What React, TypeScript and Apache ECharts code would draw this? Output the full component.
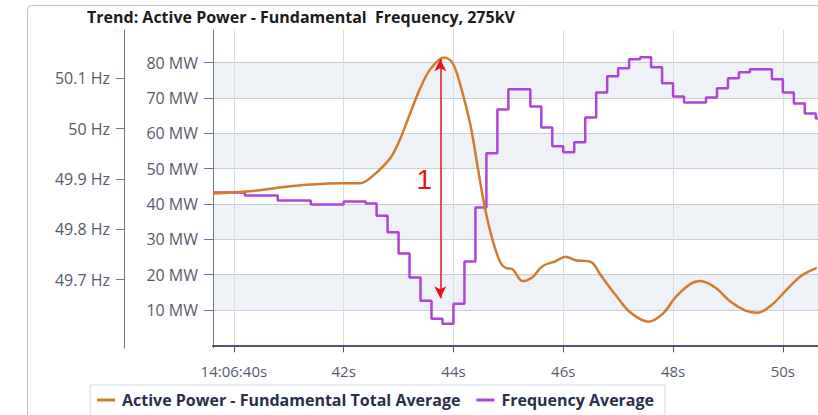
import React, { useEffect, useRef } from "react";
import * as echarts from "echarts";

const title = "Trend: Active Power - Fundamental  Frequency, 275kV";
const powerName = "Active Power - Fundamental Total Average";
const freqName = "Frequency Average";

// time in seconds after 14:06:00
const powerTimes = [39.62, 40.29, 40.84, 41.39, 41.93, 42.3, 42.54, 42.85, 43.03, 43.21, 43.39, 43.58, 43.83, 43.98, 44.12, 44.31, 44.45, 44.58, 44.71, 44.85, 44.95, 45.07, 45.26, 45.44, 45.62, 45.86, 46.04, 46.22, 46.5, 46.68, 46.95, 47.23, 47.55, 47.81, 48.05, 48.32, 48.5, 48.78, 49.05, 49.32, 49.54, 49.78, 50.05, 50.33, 50.62];
const powerMW = [43.0, 43.6, 44.7, 45.5, 45.9, 45.9, 48.1, 53.0, 58.5, 65.6, 72.6, 78.2, 81.5, 80.0, 74.0, 62.3, 49.6, 38.3, 29.9, 23.6, 21.9, 21.6, 18.2, 19.3, 22.4, 23.8, 25.1, 24.1, 23.6, 19.9, 14.3, 9.2, 6.7, 8.9, 13.7, 17.4, 18.2, 16.2, 12.3, 9.8, 9.2, 11.2, 15.4, 19.6, 21.9];

const freqTimes = [39.62, 40.2, 40.8, 41.4, 42.0, 42.4, 42.6, 42.8, 43.0, 43.2, 43.4, 43.6, 43.8, 44.0, 44.2, 44.4, 44.6, 44.8, 45.0, 45.4, 45.6, 45.8, 46.0, 46.2, 46.4, 46.6, 46.8, 47.0, 47.2, 47.4, 47.6, 47.8, 48.0, 48.2, 48.6, 48.8, 49.0, 49.2, 49.4, 49.8, 50.0, 50.2, 50.4, 50.6, 50.64];
const freqHz = [49.873, 49.867, 49.857, 49.849, 49.855, 49.851, 49.827, 49.794, 49.752, 49.704, 49.658, 49.622, 49.612, 49.652, 49.736, 49.843, 49.951, 50.038, 50.078, 50.044, 50.002, 49.965, 49.953, 49.973, 50.022, 50.072, 50.104, 50.12, 50.138, 50.142, 50.122, 50.09, 50.064, 50.052, 50.062, 50.08, 50.1, 50.112, 50.118, 50.098, 50.072, 50.05, 50.03, 50.02, 50.02];

const xTicks = [40, 42, 44, 46, 48, 50];
const mwTicks = [10, 20, 30, 40, 50, 60, 70, 80];
const hzTicks = [49.7, 49.8, 49.9, 50, 50.1];

// annotation: arrow between peak and trough, labelled "1"
const arrowTime = 43.76;
const arrowTopMW = 81.0;
const arrowBottomMW = 13.3;
const markerLabel = "1";
const markerPos = [43.47, 46.8];

const FONT = "'Open Sans', 'Noto Sans', sans-serif";

export default function App() {
  const ref = useRef<HTMLDivElement>(null);
  useEffect(() => {
    if (!ref.current) return;
    const chart = echarts.init(ref.current, undefined, { renderer: "svg" });
    const labelColor = "#545b6c";
    chart.setOption({
      animation: false,
      backgroundColor: "#ffffff",
      textStyle: { fontFamily: FONT },
      title: {
        text: title,
        left: 87,
        top: 9,
        padding: 0,
        textStyle: { fontSize: 16, fontWeight: "bold", color: "#1b1b1b", fontFamily: FONT },
      },
      graphic: [
        {
          type: "rect",
          silent: true,
          z: -10,
          shape: { x: 27.5, y: 5.5, width: 900, height: 500, r: 4 },
          style: { fill: "none", stroke: "#b3c0d2", lineWidth: 1 },
        },
      ],
      legend: {
        left: 90,
        top: 385,
        padding: [7, 11, 8, 7],
        itemGap: 16,
        itemWidth: 18,
        itemHeight: 3,
        icon: "rect",
        backgroundColor: "#ffffff",
        borderColor: "#d3d8e0",
        borderWidth: 1,
        textStyle: { fontSize: 16, fontWeight: "bold", color: "#25304a", fontFamily: FONT, padding: [0, 0, 0, 2] },
        data: [powerName, freqName],
      },
      grid: { left: 213, right: 0, top: 30, bottom: 67 },
      xAxis: {
        type: "value",
        min: 39.62,
        max: 50.64,
        axisLine: { show: true, lineStyle: { color: "#4f5578", width: 2 } },
        axisTick: { show: true, length: 7, customValues: xTicks, lineStyle: { color: "#4f5578" } },
        axisLabel: {
          color: labelColor,
          fontSize: 15,
          fontFamily: FONT,
          margin: 15,
          customValues: xTicks,
          formatter: (v: number) => (v === 40 ? "14:06:40s" : `${v}s`),
        },
        splitLine: { show: true, lineStyle: { color: "#d9dce3", width: 1 } },
      },
      yAxis: [
        {
          type: "value",
          min: -0.76,
          max: 89.25,
          position: "left",
          axisLine: { show: true, lineStyle: { color: "#6d7393", width: 1 } },
          axisTick: { show: true, length: 9, customValues: mwTicks, lineStyle: { color: "#6d7393" } },
          axisLabel: {
            color: labelColor,
            fontSize: 16,
            fontFamily: FONT,
            margin: 15,
            customValues: mwTicks,
            formatter: (v: number) => `${v} MW`,
          },
          splitLine: { show: true, lineStyle: { color: "#c9cdd6", width: 1 } },
          splitArea: { show: true, areaStyle: { color: ["#eef1f6", "rgba(255,255,255,0)"] } },
        },
        {
          type: "value",
          min: 49.564,
          max: 50.196,
          position: "left",
          offset: 89,
          axisLine: { show: true, lineStyle: { color: "#6d7393", width: 1 } },
          axisTick: { show: true, length: 8, customValues: hzTicks, lineStyle: { color: "#6d7393" } },
          axisLabel: {
            color: labelColor,
            fontSize: 16,
            fontFamily: FONT,
            margin: 14,
            customValues: hzTicks,
            formatter: (v: number) => `${+v.toFixed(1)} Hz`,
          },
          splitLine: { show: false },
        },
      ],
      series: [
        {
          name: powerName,
          type: "line",
          yAxisIndex: 0,
          smooth: 0.35,
          showSymbol: false,
          z: 3,
          color: "#d17b2e",
          lineStyle: { width: 2.5, color: "#d17b2e" },
          data: powerTimes.map((t, i) => [t, powerMW[i]]),
          markLine: {
            silent: true,
            symbol: ["arrow", "arrow"],
            symbolSize: [9, 12],
            label: { show: false },
            lineStyle: { color: "#e3141b", width: 1.5, type: "solid" },
            data: [[{ coord: [arrowTime, arrowTopMW] }, { coord: [arrowTime, arrowBottomMW] }]],
          },
          markPoint: {
            silent: true,
            data: [
              {
                coord: markerPos,
                symbol: "circle",
                symbolSize: 1,
                itemStyle: { color: "rgba(0,0,0,0)" },
                label: {
                  show: true,
                  position: "inside",
                  formatter: markerLabel,
                  fontSize: 28,
                  color: "#e3141b",
                  fontFamily: "'Liberation Sans', Arial, sans-serif",
                },
              },
            ],
          },
        },
        {
          name: freqName,
          type: "line",
          yAxisIndex: 1,
          step: "end",
          showSymbol: false,
          z: 2,
          color: "#ad44d8",
          lineStyle: { width: 2.5, color: "#ad44d8" },
          data: freqTimes.map((t, i) => [t, freqHz[i]]),
        },
      ],
    });
    return () => chart.dispose();
  }, []);
  return <div ref={ref} style={{ position: "fixed", left: 0, top: 0, width: 818, height: 415 }} />;
}
